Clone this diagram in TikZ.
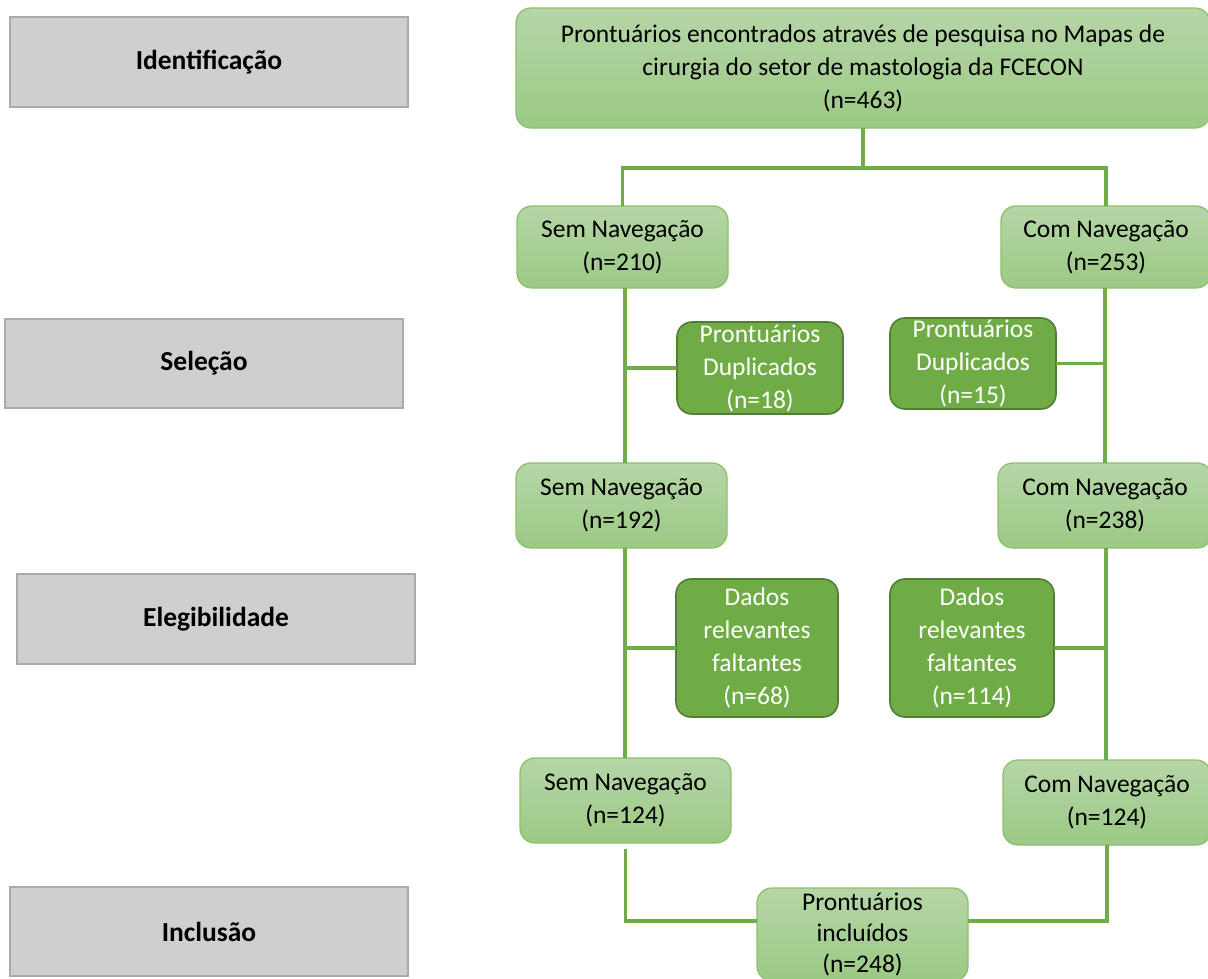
\documentclass[tikz,border=0pt]{standalone}
\usepackage{fontspec}
\setmainfont{Carlito}
\definecolor{lgtop}{HTML}{B5D6A7}
\definecolor{lgbot}{HTML}{9CC985}
\definecolor{lgborder}{HTML}{8CC06C}
\definecolor{dkfill}{HTML}{6FAC46}
\definecolor{dkborder}{HTML}{507E32}
\definecolor{grfill}{HTML}{D0CECE}
\definecolor{grborder}{HTML}{ABA9A9}
\definecolor{linecol}{HTML}{70AD47}
\begin{document}
\begin{tikzpicture}[x=1pt,y=-1pt,
  every node/.style={inner sep=0pt, outer sep=0pt},
  lightbox/.style={draw=lgborder, line width=1.3pt, rounded corners=15pt,
    top color=lgtop, bottom color=lgbot, align=center,
    font=\fontsize{25.5}{33}\selectfont, text=black},
  darkbox/.style={draw=dkborder, line width=1.6pt, rounded corners=15pt,
    fill=dkfill, align=center, font=\fontsize{25.5}{33}\selectfont, text=white},
  graybox/.style={draw=grborder, line width=1.3pt, fill=grfill, align=center,
    font=\fontsize{27.5}{32}\selectfont\bfseries, text=black},
  conn/.style={draw=linecol, line width=3.2pt}]
\useasboundingbox (0,0) rectangle (1208,978);
\clip (0,0) rectangle (1208,978);

% stage labels
\node[graybox, minimum width=398pt, minimum height=90pt] (g1) at (209,62) {Identificação};
\node[graybox, minimum width=398pt, minimum height=89pt] (g2) at (204,363.5) {Seleção};
\node[graybox, minimum width=398pt, minimum height=90pt] (g3) at (216,619) {Elegibilidade};
\node[graybox, minimum width=398pt, minimum height=89pt] (g4) at (209,931.5) {Inclusão};

% flow boxes
\node[lightbox, minimum width=694pt, minimum height=120pt] (top) at (863,68)
  {Prontuários encontrados através de pesquisa no Mapas de\\cirurgia do setor de mastologia da FCECON\\(n=463)};
\node[lightbox, minimum width=211pt, minimum height=82pt] (s1) at (622.5,247) {Sem Navegação\\(n=210)};
\node[lightbox, minimum width=210pt, minimum height=82pt] (c1) at (1106,247) {Com Navegação\\(n=253)};
\node[darkbox, minimum width=166pt, minimum height=92pt] (d1) at (760,368) {Prontuários\\Duplicados\\(n=18)};
\node[darkbox, minimum width=166pt, minimum height=91pt] (d2) at (973,363.5) {Prontuários\\Duplicados\\(n=15)};
\node[lightbox, minimum width=211pt, minimum height=85pt] (s2) at (621.5,505.5) {Sem Navegação\\(n=192)};
\node[lightbox, minimum width=214pt, minimum height=85pt] (c2) at (1105,505.5) {Com Navegação\\(n=238)};
\node[darkbox, minimum width=162pt, minimum height=138pt] (f1) at (757,648) {Dados\\relevantes\\faltantes\\(n=68)};
\node[darkbox, minimum width=164pt, minimum height=138pt] (f2) at (972,648) {Dados\\relevantes\\faltantes\\(n=114)};
\node[lightbox, minimum width=211pt, minimum height=85pt] (s3) at (625.5,800.5) {Sem Navegação\\(n=124)};
\node[lightbox, minimum width=208pt, minimum height=85pt] (c3) at (1107,802.5) {Com Navegação\\(n=124)};
\node[lightbox, minimum width=211pt, minimum height=93pt, font=\fontsize{25.5}{31}\selectfont] (inc) at (862.5,934.5) {Prontuários\\incluídos\\(n=248)};

% helper coordinates
\coordinate (j1) at (863,168);
\coordinate (v1) at (625,0);
\coordinate (v2) at (1105,0);
\coordinate (v3) at (1106,0);
\coordinate (hb) at (0,921);

% connectors
\draw[conn] (top.south) -- (j1);
\draw[conn] (s1.north) |- (j1) -| (c1.north);
\draw[conn] (s1.south -| v1) -- (s2.north -| v1);
\draw[conn] (d1.west) -- (d1.west -| v1);
\draw[conn] (c1.south -| v2) -- (c2.north -| v2);
\draw[conn] (d2.east) -- (d2.east -| v2);
\draw[conn] (s2.south -| v1) -- (s3.north -| v1);
\draw[conn] (f1.west) -- (f1.west -| v1);
\draw[conn] (c2.south -| v3) -- (c3.north -| v3);
\draw[conn] (f2.east) -- (f2.east -| v3);
\draw[conn] ([yshift=-6pt]s3.south) |- (inc.west |- hb);
\draw[conn] (c3.south) |- (inc.east |- hb);
\end{tikzpicture}
\end{document}
